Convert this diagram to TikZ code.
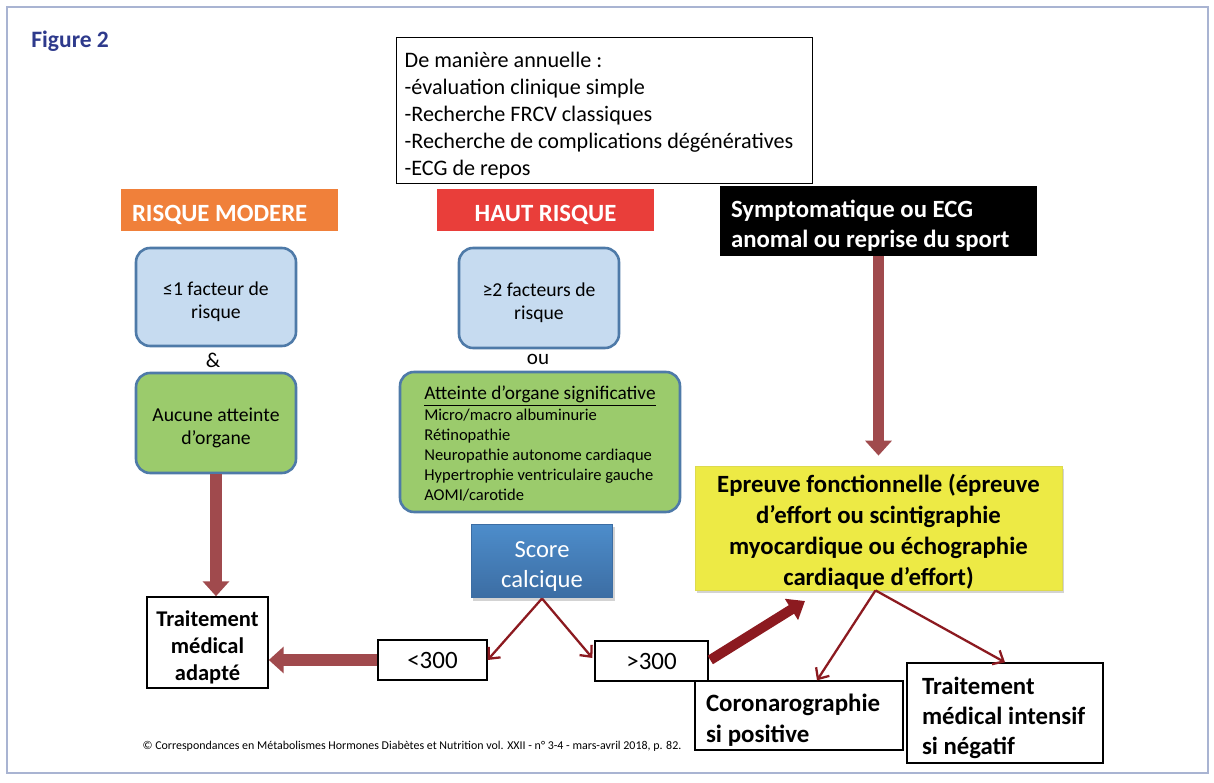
\documentclass[tikz,border=0pt]{standalone}
\usepackage{fontspec}
\setmainfont{Carlito}
\usetikzlibrary{arrows.meta,shadows,calc}
\newlength\pxu
\setlength\pxu{0.56905pt}
\newcommand\lift{\rule{0pt}{\dimexpr0.75em+4.6pt\relax}}
\definecolor{framec}{HTML}{A9B4D2}
\definecolor{figblue}{HTML}{2E3A8C}
\definecolor{modorange}{HTML}{F0803A}
\definecolor{hautred}{HTML}{E93E3A}
\definecolor{boxblue}{HTML}{C6DBF0}
\definecolor{edgeblue}{HTML}{4E7AA8}
\definecolor{boxgreen}{HTML}{9BCB6C}
\definecolor{scoretop}{HTML}{4D8DCB}
\definecolor{scorebot}{HTML}{3C6DA3}
\definecolor{epyellow}{HTML}{EDEA45}
\definecolor{arrbrown}{HTML}{A04A4D}
\definecolor{arrdark}{HTML}{8C1A20}
\tikzset{
  lowtext/.style={execute at begin node={\lift}},
  plainbox/.style={draw,line width=1.3\pxu,inner sep=0pt},
  lefttext/.style={align=left,execute at begin node={\spaceskip=0pt\xspaceskip=0pt\relax}},
  riskbar/.style={inner sep=0pt,text=white,minimum width=217\pxu,minimum height=42\pxu,lowtext,
    font=\fontsize{14.1}{16}\selectfont\bfseries},
  roundbox/.style={draw=edgeblue,line width=2.6\pxu,rounded corners=14\pxu,inner sep=0pt,
    minimum width=160\pxu,minimum height=100\pxu,align=center,font=\fontsize{11.2}{13.2}\selectfont},
  thickarr/.style={draw=arrbrown,line width=6.8pt,-{Triangle[length=8.5pt,width=14.8pt]}},
  thinarr/.style={draw=arrdark,line width=1.3pt,-{Straight Barb[length=5pt,width=9pt]}},
  bigarr/.style={draw=arrdark,line width=5.7pt,-{Triangle[length=9.1pt,width=13.7pt]}},
}
\begin{document}
\begin{tikzpicture}[x=0.02cm,y=-0.02cm]
  \useasboundingbox (0,0) rectangle (1214,783);
  \draw[framec,line width=1.2\pxu] (7,7) rectangle (1208,773);
  \node[anchor=west,text=figblue,font=\fontsize{13.4}{15}\selectfont\bfseries,inner sep=0pt] (fig) at (31,41) {Figure 2};
  % annual follow-up
  \node[plainbox,lefttext,lowtext,anchor=north west,minimum height=146\pxu,text width=400\pxu,inner xsep=8\pxu,
    font=\fontsize{12.6}{15.4}\selectfont] (annual) at (396,37)
    {De manière annuelle :\\-évaluation clinique simple\\-Recherche FRCV classiques\\-Recherche de complications dégénératives\\-ECG de repos};
  % headers
  \node[riskbar,lefttext,fill=modorange,text width=195\pxu,inner xsep=11\pxu] (moder) at (229.5,210) {RISQUE MODERE};
  \node[riskbar,fill=hautred] (haut) at (545.5,210) {HAUT RISQUE};
  \node[lefttext,lowtext,fill=black,text=white,inner sep=0pt,inner xsep=11\pxu,minimum height=70\pxu,text width=295\pxu,
    font=\fontsize{14.1}{17}\selectfont\bfseries] (sympt) at (878.5,221) {Symptomatique ou ECG\\anomal ou reprise du sport};
  % moderate risk column
  \node[roundbox,fill=boxblue,minimum height=98\pxu] (fact1) at (216,297) {\lift≤1 facteur de\\risque};
  \node[font=\fontsize{12}{14}\selectfont,inner sep=0pt] (et) at (213,360) {\&};
  \node[roundbox,fill=boxgreen] (aucune) at (216,423) {\lift Aucune atteinte\\d’organe};
  % high risk column
  \node[roundbox,fill=boxblue] (fact2) at (539,298) {\lift≥2 facteurs de\\risque};
  \node[font=\fontsize{12}{14}\selectfont,inner sep=0pt] (ou) at (538,359) {ou};
  \node[roundbox,fill=boxgreen,minimum width=280\pxu,minimum height=140\pxu,font=\fontsize{9.4}{11.4}\selectfont] (organe) at (540,442)
    {\begin{tabular}{@{}l@{}}\multicolumn{1}{@{}c@{}}{\fontsize{11}{13}\selectfont\lift\underline{Atteinte d’organe significative}}\\
     Micro/macro albuminurie\\Rétinopathie\\Neuropathie autonome cardiaque\\Hypertrophie ventriculaire gauche\\AOMI/carotide\end{tabular}};
  \node[draw=scorebot,line width=1\pxu,top color=scoretop,bottom color=scorebot,text=white,inner sep=0pt,
    minimum width=142\pxu,minimum height=74\pxu,align=center,font=\fontsize{14}{16.8}\selectfont,
    drop shadow={shadow xshift=2\pxu,shadow yshift=-3\pxu,opacity=.35}] (score) at (542,561) {\lift Score\\calcique};
  % functional test
  \node[fill=epyellow,draw=epyellow!85!gray,line width=0.8\pxu,inner sep=0pt,minimum width=367\pxu,minimum height=124\pxu,
    align=center,font=\fontsize{14.1}{17.6}\selectfont\bfseries,
    drop shadow={shadow xshift=2\pxu,shadow yshift=-3\pxu,opacity=.35}] (epreuve) at (878.5,528)
    {\lift Epreuve fonctionnelle (épreuve\\d’effort ou scintigraphie\\myocardique ou échographie\\cardiaque d’effort)};
  % results
  \node[plainbox,line width=1.6\pxu,minimum width=121\pxu,minimum height=91\pxu,align=center,
    font=\fontsize{12.8}{15.4}\selectfont\bfseries] (adapte) at (207.5,642.5) {\lift Traitement\\médical\\adapté};
  \node[plainbox,minimum width=109\pxu,minimum height=40\pxu,font=\fontsize{14.2}{16}\selectfont] (inf) at (432.5,660) {<300};
  \node[plainbox,minimum width=113\pxu,minimum height=40\pxu,font=\fontsize{14.2}{16}\selectfont] (sup) at (651.5,661) {>300};
  \node[plainbox,lefttext,lowtext,minimum height=69\pxu,text width=186\pxu,inner xsep=11\pxu,
    font=\fontsize{14.2}{17.6}\selectfont\bfseries] (coro) at (799,715.5) {Coronarographie\\si positive};
  \node[plainbox,lefttext,lowtext,minimum height=100\pxu,text width=166\pxu,inner xsep=15\pxu,
    font=\fontsize{14.1}{17}\selectfont\bfseries] (intensif) at (1005,713) {Traitement\\médical intensif\\si négatif};
  \node[font=\fontsize{6.8}{8}\selectfont,inner sep=0pt] (source) at (412,746)
    {© Correspondances en Métabolismes Hormones Diabètes et Nutrition vol. XXII - n° 3-4 - mars-avril 2018, p. 82.};
  \coordinate (epin) at (805,601);
  % arrows
  \draw[thickarr] (aucune.south) -- (aucune.south |- adapte.north);
  \draw[thickarr] (inf.west) -- (inf.west -| adapte.east);
  \draw[thickarr,shorten >=5.7pt] (sympt.south) -- (epreuve.north);
  \draw[thinarr] (score.south) -- (inf.east);
  \draw[thinarr] (score.south) -- ($(sup.west)+(-2,-3)$);
  \draw[bigarr,shorten <=1.1pt] (sup.east) -- (epin);
  \draw[thinarr] ($(epreuve.south)+(-3,0)$) -- ($(coro.north)+(18,0)$);
  \draw[thinarr] ($(epreuve.south)+(-3,0)$) -- (intensif.north);
\end{tikzpicture}
\end{document}
